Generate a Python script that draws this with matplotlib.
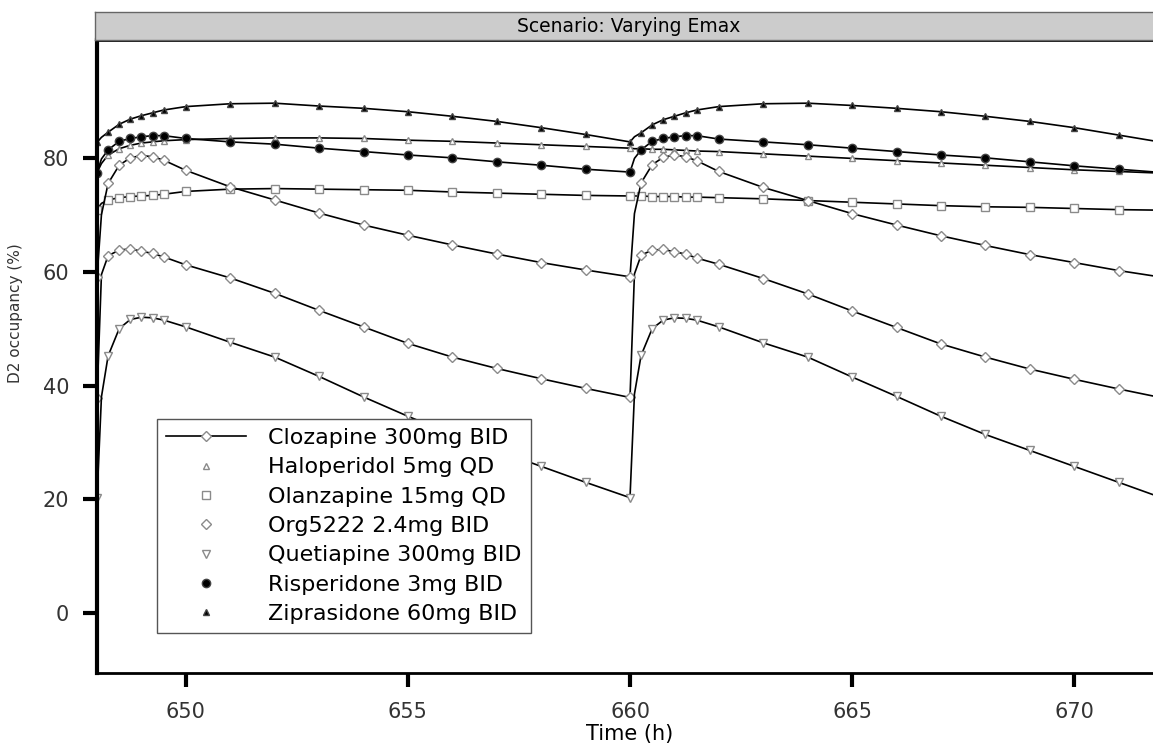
import matplotlib
matplotlib.use("Agg")
import matplotlib.pyplot as plt
from matplotlib.lines import Line2D

# sampling times (h); 648.1 / 660.1 only shape the dose jump, no marker there
time_h = [648, 648.1, 648.25, 648.5, 648.75, 649, 649.25, 649.5, 650, 651, 652, 653, 654, 655, 656, 657, 658, 659,
          660, 660.1, 660.25, 660.5, 660.75, 661, 661.25, 661.5, 662, 663, 664, 665, 666, 667, 668, 669, 670, 671,
          672]

clozapine = [37.8, 59.5, 62.8, 63.8, 64.0, 63.6, 63.2, 62.6, 61.2, 58.9, 56.2, 53.2, 50.3, 47.4, 45.0, 43.0, 41.2, 39.5,
             37.9, 59.6, 62.9, 63.8, 63.9, 63.5, 63.1, 62.4, 61.3, 58.8, 56.1, 53.1, 50.2, 47.3, 45.0, 42.9, 41.1, 39.4,
             37.8]
haloperidol = [77.4, 79.0, 80.5, 81.6, 82.2, 82.6, 82.8, 83.0, 83.2, 83.4, 83.5, 83.5, 83.4, 83.1, 82.9, 82.6, 82.3, 82.0,
               81.7, 81.6, 81.6, 81.5, 81.5, 81.4, 81.3, 81.2, 81.1, 80.7, 80.3, 79.9, 79.5, 79.1, 78.7, 78.3, 77.9, 77.6,
               77.3]
olanzapine = [70.9, 72.0, 72.6, 73.0, 73.2, 73.3, 73.4, 73.6, 74.1, 74.5, 74.6, 74.5, 74.4, 74.3, 74.0, 73.8, 73.6, 73.4,
              73.3, 73.3, 73.3, 73.2, 73.2, 73.2, 73.1, 73.1, 73.0, 72.8, 72.5, 72.2, 71.9, 71.6, 71.4, 71.3, 71.1, 70.9,
              70.8]
org5222 = [59.0, 70.0, 75.5, 78.7, 80.0, 80.4, 80.2, 79.6, 77.8, 74.9, 72.6, 70.3, 68.2, 66.4, 64.7, 63.1, 61.6, 60.3,
           59.1, 70.2, 75.6, 78.8, 80.1, 80.5, 80.2, 79.5, 77.6, 74.8, 72.5, 70.2, 68.2, 66.3, 64.6, 63.0, 61.6, 60.2,
           59.0]
quetiapine = [20.2, 38.0, 45.2, 50.0, 51.6, 52.0, 51.9, 51.5, 50.3, 47.6, 45.0, 41.6, 38.0, 34.6, 31.4, 28.6, 25.8, 23.0,
              20.3, 38.5, 45.3, 50.0, 51.5, 51.9, 51.8, 51.5, 50.3, 47.5, 45.0, 41.5, 38.1, 34.6, 31.4, 28.6, 25.8, 23.0,
              20.2]
risperidone = [77.4, 79.8, 81.4, 82.9, 83.4, 83.7, 83.9, 83.9, 83.4, 82.8, 82.4, 81.7, 81.1, 80.5, 80.0, 79.3, 78.7, 78.0,
               77.5, 79.9, 81.4, 82.9, 83.4, 83.7, 83.9, 83.9, 83.3, 82.8, 82.3, 81.7, 81.1, 80.5, 80.0, 79.3, 78.6, 78.0,
               77.4]
ziprasidone = [82.7, 83.6, 84.5, 85.9, 86.8, 87.4, 87.9, 88.4, 89.0, 89.5, 89.6, 89.1, 88.7, 88.1, 87.3, 86.4, 85.3, 84.1,
               82.8, 83.7, 84.4, 85.8, 86.7, 87.3, 87.9, 88.4, 89.0, 89.5, 89.6, 89.2, 88.7, 88.1, 87.3, 86.4, 85.3, 84.0,
               82.7]

labels = ["Clozapine 300mg BID", "Haloperidol 5mg QD", "Olanzapine 15mg QD", "Org5222 2.4mg BID",
          "Quetiapine 300mg BID", "Risperidone 3mg BID", "Ziprasidone 60mg BID"]
x_ticks = [650, 655, 660, 665, 670]
y_ticks = [0, 20, 40, 60, 80]

W, H = 1153, 747
fig = plt.figure(figsize=(W / 100, H / 100), dpi=100)
ax = fig.add_axes([97 / W, (H - 673) / H, 1066 / W, 633 / H])

# marker style per series: (marker, face, edge, size)
styles = [("D", "white", "#8a8a8a", 5),
          ("^", "white", "#8a8a8a", 5),
          ("s", "white", "#8a8a8a", 6),
          ("D", "white", "#8a8a8a", 5),
          ("v", "white", "#8a8a8a", 6),
          ("o", "black", "#444444", 6),
          ("^", "black", "#444444", 4.5)]
series = [clozapine, haloperidol, olanzapine, org5222, quetiapine, risperidone, ziprasidone]
marks = [t not in (648.1, 660.1) for t in time_h]

for vals, (m, fc, ec, ms) in zip(series, styles):
    ax.plot(time_h, vals, color="black", lw=1.2, marker=m, markerfacecolor=fc,
            markeredgecolor=ec, markersize=ms, markeredgewidth=1.0, markevery=marks)

ax.set_xlim(648, 672)
ax.set_ylim(-10.5, 100.7)
ax.set_xticks(x_ticks)
ax.set_yticks(y_ticks)
ax.tick_params(axis="both", direction="out", length=10, width=3, labelsize=15,
               labelcolor="#333333")
ax.tick_params(axis="y", pad=10)
ax.tick_params(axis="x", pad=11)
ax.spines["left"].set_linewidth(3)
ax.spines["bottom"].set_linewidth(2)
ax.spines["top"].set_linewidth(2)
ax.spines["right"].set_visible(False)

ax.set_ylabel("D2 occupancy (%)", fontsize=11, color="#333333")
ax.yaxis.set_label_coords(-0.069, 0.569)
fig.text(630 / W, 1 - 734 / H, "Time (h)", ha="center", va="center", fontsize=15)

# lattice-style key: only the first entry carries a line
handles = []
for i, (m, fc, ec, ms) in enumerate(styles):
    handles.append(Line2D([], [], color="black", lw=1.2 if i == 0 else 0,
                          linestyle="-" if i == 0 else "none",
                          marker=m, markerfacecolor=fc, markeredgecolor=ec,
                          markersize=ms))
leg = ax.legend(handles, labels, loc="lower left",
                bbox_to_anchor=(157 / W, 1 - 633 / H), bbox_transform=fig.transFigure,
                fontsize=16, handlelength=3.6, handletextpad=1.0, labelspacing=0.42,
                borderpad=0.4, borderaxespad=0, fancybox=False, framealpha=1,
                edgecolor="#555555")
leg.get_frame().set_linewidth(1.0)

# strip on top
strip = fig.add_axes([95 / W, (H - 40) / H, 1068 / W, 28 / H])
strip.set_facecolor("#cccccc")
strip.set_xticks([])
strip.set_yticks([])
for s in strip.spines.values():
    s.set_linewidth(1.0)
    s.set_color("#666666")
strip.text(0.5, 0.5, "Scenario: Varying Emax", ha="center", va="center", fontsize=13.5,
           transform=strip.transAxes)

fig.savefig("out.png", dpi=100)
